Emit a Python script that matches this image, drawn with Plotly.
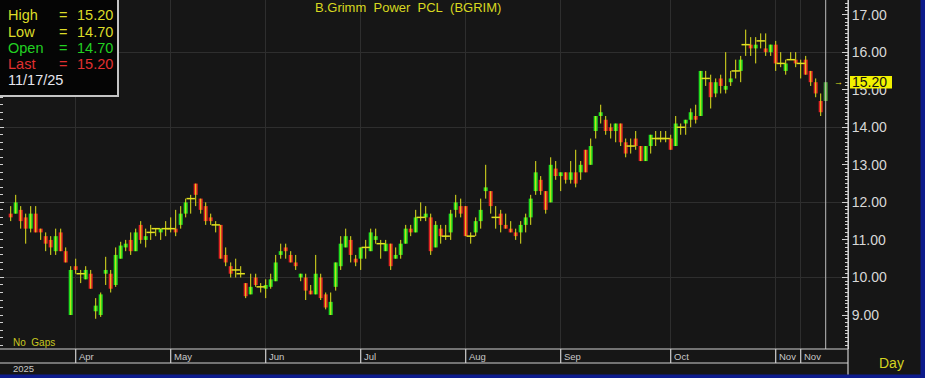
import plotly.graph_objects as go

# ---------------- data ----------------
opens = [
    11.7, 11.7, 11.8, 11.6, 11.3, 11.7, 11.3, 11.1, 11.0, 10.7,
    11.2, 10.7, 9.0, 10.3, 10.1, 9.95, 10.1, 9.1, 9.0, 10.1,
    10.1, 9.8, 10.5, 10.8, 11.0, 10.7, 11.4, 11.0, 11.2, 11.3,
    11.2, 11.3, 11.3, 11.3, 11.4, 11.7, 12.1, 12.5, 12.1, 11.9,
    11.6, 11.4, 11.4, 10.6, 10.3, 10.2, 10.1, 9.85, 9.55, 10.0,
    9.75, 9.7, 9.75, 9.9, 10.6, 10.8, 10.6, 10.4, 10.0, 10.0,
    9.65, 9.55, 10.0, 9.55, 9.0, 9.75, 10.3, 10.8, 11.0, 10.5,
    10.5, 10.8, 10.7, 11.0, 10.9, 10.7, 10.9, 10.5, 10.6, 10.9,
    11.3, 11.2, 11.6, 11.6, 11.6, 10.8, 11.3, 11.1, 11.2, 11.8,
    11.9, 11.9, 11.1, 11.2, 11.5, 12.3, 12.3, 11.6, 11.7, 11.4,
    11.3, 11.2, 11.2, 11.4, 11.6, 12.3, 12.6, 12.3, 12.0, 12.9,
    12.7, 12.8, 12.6, 12.8, 12.8, 13.4, 13.0, 13.9, 14.3, 14.2,
    14.0, 13.9, 14.1, 13.6, 13.5, 13.7, 13.5, 13.1, 13.5, 13.7,
    13.7, 13.7, 13.7, 13.5, 14.0, 14.1, 14.2, 14.3, 14.3, 15.3,
    15.2, 14.9, 15.3, 15.0, 15.2, 15.5, 15.5, 16.2, 16.2, 16.1,
    16.3, 16.1, 16.0, 16.2, 15.7, 15.5, 15.8, 15.8, 15.7, 15.8,
    15.5, 15.2, 14.7, 14.7,
]
highs = [
    11.9, 12.2, 11.9, 11.7, 11.9, 11.9, 11.3, 11.2, 11.1, 11.3,
    11.3, 10.8, 10.3, 10.5, 10.2, 10.3, 10.2, 9.45, 9.6, 10.55,
    10.2, 10.8, 10.95, 11.0, 11.2, 11.3, 11.5, 11.3, 11.4, 11.3,
    11.3, 11.5, 11.6, 11.8, 11.9, 12.1, 12.2, 12.5, 12.1, 12.0,
    11.7, 11.5, 11.4, 10.8, 10.4, 10.5, 10.3, 9.85, 10.1, 10.1,
    9.85, 9.95, 10.1, 10.6, 10.9, 10.9, 10.7, 10.6, 10.1, 10.1,
    9.8, 10.6, 10.1, 9.6, 9.6, 10.4, 11.1, 11.3, 11.1, 10.6,
    10.8, 11.0, 11.3, 11.3, 11.0, 11.0, 10.9, 10.8, 11.0, 11.4,
    11.4, 11.8, 12.0, 11.9, 11.7, 11.5, 11.4, 11.4, 11.8, 12.2,
    12.1, 11.9, 11.2, 11.6, 12.1, 13.0, 12.3, 11.9, 11.8, 11.7,
    11.5, 11.3, 11.5, 11.7, 12.2, 13.1, 12.7, 12.3, 13.2, 13.1,
    12.8, 12.8, 13.1, 13.4, 13.1, 13.4, 13.7, 14.3, 14.6, 14.3,
    14.1, 14.1, 14.1, 13.7, 13.7, 13.9, 13.5, 13.5, 13.8, 13.9,
    13.9, 13.9, 13.8, 14.3, 14.1, 14.2, 14.5, 14.6, 15.5, 15.5,
    15.4, 15.3, 15.4, 16.0, 15.5, 15.8, 15.9, 16.6, 16.4, 16.4,
    16.5, 16.5, 16.2, 16.3, 16.0, 15.8, 16.0, 16.0, 15.8, 15.9,
    15.5, 15.3, 14.9, 15.2,
]
lows = [
    11.5, 11.7, 11.3, 10.9, 11.2, 11.2, 11.0, 10.7, 10.6, 10.6,
    10.7, 10.4, 9.0, 10.1, 9.85, 9.95, 9.7, 8.9, 8.95, 9.8,
    9.6, 9.75, 10.5, 10.7, 10.6, 10.7, 10.9, 10.8, 11.0, 11.1,
    11.0, 11.1, 11.2, 11.1, 11.3, 11.6, 11.7, 11.9, 11.7, 11.4,
    11.4, 11.2, 10.5, 10.3, 10.0, 10.0, 10.0, 9.45, 9.55, 9.75,
    9.6, 9.45, 9.7, 9.9, 10.5, 10.5, 10.4, 10.2, 9.9, 9.4,
    9.55, 9.55, 9.4, 9.15, 9.0, 9.65, 10.2, 10.8, 10.4, 10.3,
    10.2, 10.5, 10.7, 10.9, 10.5, 10.7, 10.2, 10.5, 10.5, 10.9,
    11.1, 11.2, 11.5, 11.5, 10.6, 10.8, 10.9, 11.0, 11.0, 11.6,
    11.6, 11.1, 10.9, 11.1, 11.3, 12.1, 11.7, 11.3, 11.2, 11.3,
    11.2, 11.0, 10.9, 11.2, 11.4, 12.2, 12.2, 11.7, 12.0, 12.6,
    12.3, 12.5, 12.5, 12.4, 12.6, 12.8, 13.0, 13.7, 14.1, 13.8,
    13.7, 13.6, 13.5, 13.2, 13.3, 13.4, 13.1, 13.1, 13.3, 13.5,
    13.6, 13.6, 13.4, 13.5, 13.8, 13.8, 14.0, 14.1, 14.3, 15.1,
    14.5, 14.8, 14.9, 14.9, 15.1, 15.3, 15.2, 15.9, 15.9, 15.7,
    16.1, 15.9, 15.9, 15.5, 15.6, 15.4, 15.8, 15.6, 15.3, 15.4,
    15.1, 14.8, 14.3, 14.7,
]
closes = [
    11.6, 12.0, 11.5, 11.3, 11.7, 11.2, 11.2, 10.9, 10.8, 11.1,
    10.7, 10.4, 10.2, 10.2, 10.1, 10.2, 9.7, 9.25, 9.55, 10.2,
    9.7, 10.6, 10.85, 10.9, 10.7, 11.2, 11.0, 11.1, 11.2, 11.3,
    11.3, 11.3, 11.3, 11.2, 11.7, 12.0, 12.1, 12.2, 11.8, 11.5,
    11.5, 11.4, 10.5, 10.4, 10.1, 10.2, 10.1, 9.5, 9.75, 9.8,
    9.75, 9.8, 9.95, 10.4, 10.7, 10.7, 10.4, 10.3, 10.1, 9.65,
    9.55, 10.1, 9.45, 9.2, 9.35, 10.4, 10.9, 11.1, 10.6, 10.4,
    10.8, 10.8, 11.2, 11.1, 10.9, 10.9, 10.3, 10.6, 10.9, 11.3,
    11.2, 11.6, 11.6, 11.7, 10.7, 11.4, 11.1, 11.1, 11.7, 12.0,
    11.7, 11.1, 11.1, 11.5, 11.8, 12.4, 11.9, 11.6, 11.4, 11.3,
    11.2, 11.1, 11.4, 11.6, 12.1, 12.8, 12.3, 11.8, 13.0, 12.7,
    12.8, 12.6, 12.8, 12.5, 13.0, 12.8, 13.5, 14.3, 14.4, 13.9,
    13.9, 14.1, 13.6, 13.3, 13.5, 13.5, 13.1, 13.5, 13.8, 13.7,
    13.7, 13.7, 13.4, 14.1, 14.0, 14.2, 14.4, 14.2, 15.5, 15.3,
    14.8, 15.2, 15.1, 15.1, 15.3, 15.5, 15.8, 16.2, 16.1, 16.2,
    16.3, 16.0, 16.2, 15.7, 15.7, 15.7, 15.8, 15.7, 15.7, 15.4,
    15.2, 14.9, 14.4, 15.2,
]
month_labels = ["Apr", "May", "Jun", "Jul", "Aug", "Sep", "Oct", "Nov", "Nov"]
month_start_idx = [13, 32, 51, 70, 91, 110, 132, 153, 158]
year_label = "2025"
last_date = "11/17/25"
title_text = "B.Grimm&nbsp; Power&nbsp; PCL&nbsp; (BGRIM)"

n = len(closes)
assert len(opens) == len(highs) == len(lows) == n
idx = list(range(n))

# ---------------- styling ----------------
BG = "#161616"
GRID = "#2e2e2e"
UP = "#1fdc1f"
DOWN = "#e02222"
WICK = "#e2e21e"
LAST_UP = "#3c9a3c"
AXIS = "#cfcfcf"
FONT = "Liberation Sans, Arial, sans-serif"

# wicks
wx, wy = [], []
for i in idx:
    wx += [i, i, None]
    wy += [lows[i], highs[i], None]

# bodies
bx, bb, bh, bc = [], [], [], []
dx, dy = [], []
for i in idx:
    o, c = opens[i], closes[i]
    if abs(c - o) < 1e-9:
        dx.append(i)
        dy.append(o)
        continue
    bx.append(i)
    bb.append(min(o, c))
    bh.append(abs(c - o))
    if c > o:
        bc.append(LAST_UP if i == n - 1 else UP)
    else:
        bc.append(DOWN)

fig = go.Figure()
fig.add_trace(go.Scatter(x=wx, y=wy, mode="lines", line=dict(color=WICK, width=1),
                         hoverinfo="skip", showlegend=False))
fig.add_trace(go.Bar(x=bx, y=bh, base=bb, width=0.8,
                     marker=dict(color=bc, line=dict(width=0)),
                     hoverinfo="skip", showlegend=False))
fig.add_trace(go.Scatter(x=dx, y=dy, mode="markers",
                         marker=dict(symbol="line-ew", size=6, line=dict(color=WICK, width=1.5)),
                         hoverinfo="skip", showlegend=False))
fig.add_trace(go.Scatter(x=[0], y=[10], yaxis="y2", mode="markers",
                         marker=dict(opacity=0), hoverinfo="skip", showlegend=False))

YR = [8.095, 17.389]
XR = [-2.14, 167.46]

fig.update_layout(
    width=925, height=378,
    margin=dict(l=0, r=77, t=0, b=29),
    paper_bgcolor=BG, plot_bgcolor=BG,
    showlegend=False,
    font=dict(family=FONT, color=AXIS),
    xaxis=dict(range=XR, tickvals=month_start_idx, showticklabels=False,
               showgrid=True, gridcolor=GRID, gridwidth=1, zeroline=False,
               showline=False, ticks=""),
    yaxis=dict(side="right", range=YR, dtick=1, tick0=0, tickformat=".2f",
               ticks="inside", ticklen=6, tickcolor=AXIS, tickwidth=1,
               showline=True, linecolor=AXIS, linewidth=1,
               showgrid=False, zeroline=False,
               tickfont=dict(size=14, color="#d8d8d8", family=FONT),
               minor=dict(dtick=0.1, ticks="inside", ticklen=3, tickcolor=AXIS, showgrid=False)),
    yaxis2=dict(overlaying="y", side="left", range=YR, dtick=2, tick0=0,
                showticklabels=False, ticks="inside", ticklen=4, tickcolor=AXIS,
                showgrid=True, gridcolor=GRID, zeroline=False, showline=False,
                minor=dict(dtick=0.2, ticks="inside", ticklen=3, tickcolor=AXIS, showgrid=False)),
)

shapes = []
# last-bar cursor line
shapes.append(dict(type="line", xref="x", yref="paper", x0=n - 1, x1=n - 1, y0=0, y1=1,
                   line=dict(color="#bdbdbd", width=1), layer="above"))
# bottom band lines
for yp in [0, -14 / 349]:
    shapes.append(dict(type="line", xref="paper", yref="paper", x0=0, x1=1, y0=yp, y1=yp,
                       line=dict(color="#d0d0d0", width=1.2)))
# month dividers in the band
for m in month_start_idx:
    shapes.append(dict(type="line", xref="x", yref="paper", x0=m, x1=m, y0=-14 / 349, y1=0,
                       line=dict(color="#d0d0d0", width=1.2)))
# right axis line extended through the band
shapes.append(dict(type="line", xref="paper", yref="paper", x0=1, x1=1, y0=-0.1, y1=1,
                   line=dict(color=AXIS, width=1.2)))
# blue borders
shapes.append(dict(type="rect", xref="paper", yref="paper", x0=-0.01, x1=1.1,
                   y0=-0.12, y1=-25.5 / 349, fillcolor="#0d1b8c", line=dict(width=0)))
shapes.append(dict(type="rect", xref="paper", yref="paper", x0=920.5 / 848, x1=1.1,
                   y0=-0.12, y1=1.01, fillcolor="#0d1b8c", line=dict(width=0)))
# info box
shapes.append(dict(type="rect", xref="paper", yref="paper", x0=-0.01, x1=118 / 848,
                   y0=(349 - 96) / 349, y1=1.01, fillcolor="#050505",
                   line=dict(color="#c4c4c4", width=2), layer="above"))
# last price box
last = closes[-1]
shapes.append(dict(type="rect", xref="paper", yref="y", x0=850 / 848, x1=892 / 848,
                   y0=last - 0.165, y1=last + 0.165, fillcolor="#f2f200",
                   line=dict(width=0), layer="above"))
fig.update_layout(shapes=shapes)

ann = []
# title
ann.append(dict(text=title_text, xref="paper", yref="paper", x=313 / 848, y=(349 - 7.5) / 349,
                xanchor="left", yanchor="middle", showarrow=False,
                font=dict(size=13, color="#d8d820", family=FONT)))
# info box texts
rows = [("High", highs[-1], "#dcdc28"), ("Low", lows[-1], "#dcdc28"),
        ("Open", opens[-1], "#22d022"), ("Last", closes[-1], "#e03030")]
ys = [15.3, 31.7, 48.1, 64.3]
for (lab, val, col), yy in zip(rows, ys):
    yp = (349 - yy) / 349
    ann.append(dict(text=lab, xref="paper", yref="paper", x=6 / 848, y=yp, xanchor="left",
                    yanchor="middle", showarrow=False, font=dict(size=14.5, color=col, family=FONT)))
    ann.append(dict(text="=", xref="paper", yref="paper", x=56.5 / 848, y=yp, xanchor="left",
                    yanchor="middle", showarrow=False, font=dict(size=14.5, color=col, family=FONT)))
    ann.append(dict(text=f"{val:.2f}", xref="paper", yref="paper", x=74.5 / 848, y=yp,
                    xanchor="left", yanchor="middle", showarrow=False,
                    font=dict(size=14.5, color=col, family=FONT)))
ann.append(dict(text=last_date, xref="paper", yref="paper", x=6 / 848, y=(349 - 80) / 349,
                xanchor="left", yanchor="middle", showarrow=False,
                font=dict(size=14.5, color="#e6e6ee", family=FONT)))
# last price label + arrow
ann.append(dict(text=f"{last:.2f}", xref="paper", yref="y", x=850.5 / 848, y=last,
                xanchor="left", yanchor="middle", showarrow=False,
                font=dict(size=14, color="#111111", family=FONT)))
ann.append(dict(text="→", xref="paper", yref="y", x=838 / 848, y=last,
                xanchor="center", yanchor="middle", showarrow=False,
                font=dict(size=9, color="#e2e21e", family=FONT)))
# month labels
for lab, m in zip(month_labels, month_start_idx):
    ann.append(dict(text=lab, xref="x", yref="paper", x=m, y=-7.5 / 349, xanchor="left",
                    yanchor="middle", xshift=1, showarrow=False,
                    font=dict(size=9.5, color="#c8c8c8", family=FONT)))
ann.append(dict(text=year_label, xref="paper", yref="paper", x=11 / 848, y=-19.5 / 349,
                xanchor="left", yanchor="middle", showarrow=False,
                font=dict(size=9.5, color="#c8c8c8", family=FONT)))
ann.append(dict(text="No  Gaps", xref="paper", yref="paper", x=11 / 848, y=7 / 349,
                xanchor="left", yanchor="middle", showarrow=False,
                font=dict(size=10, color="#c8c820", family=FONT)))
ann.append(dict(text="Day", xref="paper", yref="paper", x=877 / 848, y=-14 / 349,
                xanchor="left", yanchor="middle", showarrow=False,
                font=dict(size=14, color="#d4d420", family=FONT)))
fig.update_layout(annotations=ann)

fig.write_html("out.html")
